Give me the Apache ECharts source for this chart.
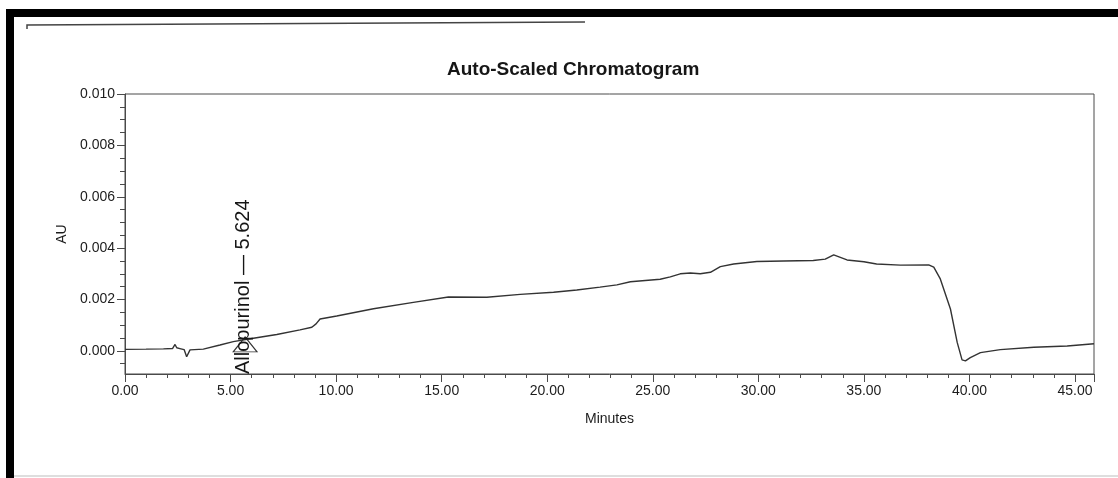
<!DOCTYPE html>
<html>
<head>
<meta charset="utf-8">
<title>Auto-Scaled Chromatogram</title>
<script src="https://cdn.jsdelivr.net/npm/echarts@6.0.0/dist/echarts.min.js"></script>
<style>
  html, body { margin: 0; padding: 0; background: #fff; }
  #chart { width: 1118px; height: 478px; }
</style>
</head>
<body>
<div id="chart"></div>
<script>
// retention time (minutes) and detector response (AU)
const timeMin = [
  0.0, 1.0, 1.82, 2.25, 2.37, 2.45, 2.6, 2.8, 2.92, 3.08,
  3.71, 4.5, 5.13, 6.08, 7.19, 8.29, 8.85, 9.05, 9.24, 10.03,
  11.77, 13.66, 15.32, 17.14, 18.72, 20.3, 21.4, 22.5, 23.3, 23.94,
  25.35, 25.83, 26.3, 26.78, 27.25, 27.73, 28.2, 28.83, 29.93, 31.2,
  32.6, 33.17, 33.57, 34.2, 35.0, 35.6, 36.73, 38.07, 38.31, 38.62,
  39.1, 39.42, 39.65, 39.81, 40.04, 40.52, 41.46, 43.05, 44.63, 45.9
];
const absorbance = [
  0.00006, 0.00007, 0.00008, 0.00009, 0.00025, 0.00012, 0.00009, 0.00005, -0.00023, 0.00004,
  0.00007, 0.00023, 0.00036, 0.00049, 0.00064, 0.00082, 0.00092, 0.00105, 0.00124, 0.00136,
  0.00164, 0.00189, 0.00210, 0.00209, 0.00220, 0.00228, 0.00237, 0.00248, 0.00257, 0.00269,
  0.00279, 0.00288, 0.00300, 0.00303, 0.00300, 0.00306, 0.00328, 0.00338, 0.00348, 0.00350,
  0.00352, 0.00357, 0.00374, 0.00354, 0.00347, 0.00338, 0.00334, 0.00335, 0.00326, 0.00280,
  0.00163, 0.00033, -0.00035, -0.00039, -0.00026, -0.00007, 0.00005, 0.00014, 0.00019, 0.00028
];

const yTicks = [0, 0.002, 0.004, 0.006, 0.008, 0.010];
const yMinorTicks = [
  -0.0005, 0.0005, 0.001, 0.0015, 0.0025, 0.003, 0.0035, 0.0045, 0.005,
  0.0055, 0.0065, 0.007, 0.0075, 0.0085, 0.009, 0.0095
];

// integrator peak annotation
const peakName = 'Allopurinol';
const peakTime = 5.624;
const peakMarker = [5.69, 0.00025];

const yMin = -0.0009;
const yMax = 0.010;
const xMin = 0;
const xMax = 45.9;

const font = '"Liberation Sans", Arial, sans-serif';
const ink = '#1c1c1c';

const chart = echarts.init(document.getElementById('chart'));

const option = {
  backgroundColor: '#fff',
  animation: false,
  title: {
    text: 'Auto-Scaled Chromatogram',
    left: 447,
    top: 60,
    padding: 0,
    textStyle: { fontFamily: font, fontSize: 19, fontWeight: 'bold', color: '#161616' }
  },
  grid: {
    left: 125,
    right: 24,
    top: 94,
    bottom: 104,
    outerBoundsMode: 'none',
    show: true,
    borderColor: '#4a4a4a',
    borderWidth: 1
  },
  xAxis: {
    type: 'value',
    min: xMin,
    max: xMax,
    interval: 5,
    name: 'Minutes',
    nameLocation: 'middle',
    nameGap: 38,
    nameTextStyle: { fontFamily: font, fontSize: 14, color: ink },
    axisLine: { show: true, onZero: false, lineStyle: { color: '#4a4a4a', width: 1 } },
    axisTick: { show: true, length: 8, lineStyle: { color: '#4a4a4a' } },
    minorTick: { show: true, splitNumber: 5, length: 4, lineStyle: { color: '#4a4a4a' } },
    splitLine: { show: false },
    axisLabel: {
      fontFamily: font,
      fontSize: 14,
      color: ink,
      margin: 10,
      formatter: function (v) {
        return v % 5 === 0 ? v.toFixed(2) : '';
      }
    }
  },
  yAxis: [
    {
      type: 'value',
      position: 'left',
      min: yMin,
      max: yMax,
      axisLine: { show: true, onZero: false, lineStyle: { color: '#4a4a4a', width: 1 } },
      axisTick: { show: true, length: 5, customValues: yMinorTicks, lineStyle: { color: '#4a4a4a' } },
      axisLabel: { show: false },
      splitLine: { show: false }
    },
    {
      type: 'value',
      position: 'left',
      offset: 0,
      min: yMin,
      max: yMax,
      name: 'AU',
      nameLocation: 'middle',
      nameGap: 48,
      nameTextStyle: { fontFamily: font, fontSize: 14, color: ink },
      axisLine: { show: false, onZero: false },
      axisTick: { show: true, length: 8, customValues: yTicks, lineStyle: { color: '#4a4a4a' } },
      axisLabel: {
        customValues: yTicks,
        fontFamily: font,
        fontSize: 14,
        color: ink,
        margin: 10,
        formatter: function (v) { return v.toFixed(3); }
      },
      splitLine: { show: false }
    }
  ],
  series: [
    {
      type: 'line',
      yAxisIndex: 0,
      showSymbol: false,
      smooth: false,
      lineStyle: { color: '#333', width: 1.4 },
      data: timeMin.map(function (t, i) { return [t, absorbance[i]]; }),
      markPoint: {
        silent: true,
        data: [
          {
            coord: [peakTime, yMin],
            symbol: 'circle',
            symbolSize: 1,
            itemStyle: { color: 'rgba(0,0,0,0)' },
            label: {
              show: true,
              position: 'inside',
              formatter: peakName + ' \u2014 ' + peakTime.toFixed(3),
              rotate: 90,
              align: 'left',
              verticalAlign: 'middle',
              fontFamily: font,
              fontSize: 20,
              color: '#161616'
            }
          },
          {
            coord: peakMarker,
            symbol: 'triangle',
            symbolSize: [24, 15],
            itemStyle: { color: 'rgba(0,0,0,0)', borderColor: '#333', borderWidth: 1 },
            label: { show: false }
          }
        ]
      }
    }
  ],
  graphic: [
    // scanned page frame
    { type: 'rect', shape: { x: 6, y: 9, width: 1112, height: 8 }, style: { fill: '#000' } },
    { type: 'rect', shape: { x: 6, y: 9, width: 8, height: 469 }, style: { fill: '#000' } },
    { type: 'rect', shape: { x: 14, y: 475, width: 1104, height: 2 }, style: { fill: '#dedede' } },
    { type: 'polyline', shape: { points: [[27, 29], [27, 25], [585, 22]] }, style: { stroke: '#444', lineWidth: 1.5, fill: null } }
  ]
};

chart.setOption(option);
</script>
</body>
</html>
